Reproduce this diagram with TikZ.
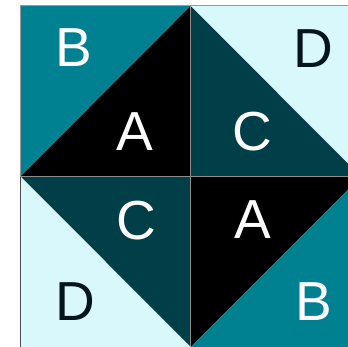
\documentclass[tikz,border=0pt]{standalone}
\usepackage{fontspec}
\setmainfont{Liberation Sans}
\definecolor{tealB}{RGB}{0,129,146}
\definecolor{darkC}{RGB}{0,63,72}
\definecolor{lightD}{RGB}{216,248,252}
\definecolor{textD}{RGB}{2,22,28}
\begin{document}
\begin{tikzpicture}[x=1pt,y=1pt,
  letter/.style={font=\fontsize{55}{55}\selectfont, inner sep=0pt, anchor=center},
  lw/.style={text=white},
  ld/.style={text=textD},
  divider/.style={draw=gray!90, line width=0.9pt}]
\useasboundingbox (0,0) rectangle (348,346);
\begin{scope}
\clip (0,0) rectangle (348,346);
% coordinates
\coordinate (LT) at (20.5,340);
\coordinate (MT) at (190.7,340);
\coordinate (RT) at (361,340);
\coordinate (LM) at (20.5,169.3);
\coordinate (MM) at (190.7,169.3);
\coordinate (RM) at (361,169.3);
\coordinate (LB) at (20.5,-1);
\coordinate (MB) at (190.7,-1);
\coordinate (RB) at (361,-1);
% top-left quadrant
\fill[tealB] (LT) -- (MT) -- (LM) -- cycle;
\fill[black] (MT) -- (MM) -- (LM) -- cycle;
% top-right quadrant
\fill[lightD] (MT) -- (RT) -- (RM) -- cycle;
\fill[darkC] (MT) -- (RM) -- (MM) -- cycle;
% bottom-left quadrant
\fill[darkC] (LM) -- (MM) -- (MB) -- cycle;
\fill[lightD] (LM) -- (MB) -- (LB) -- cycle;
% bottom-right quadrant
\fill[black] (MM) -- (RM) -- (MB) -- cycle;
\fill[tealB] (RM) -- (RB) -- (MB) -- cycle;
% dividers and outline
\draw[divider] (MT) -- (MB);
\draw[divider] (LM) -- (RM);
\draw[draw=gray!80, line width=1pt] (LB) -- (LT) -- (RT);
\draw[draw=black!70, line width=1pt] (LB) -- (LM);
\end{scope}
% labels
\node[letter,lw] (b1) at (73.5,298) {B};
\node[letter,lw] (a1) at (134.5,214) {A};
\node[letter,lw] (c1) at (252.5,214) {C};
\node[letter,ld] (d1) at (313.5,297.5) {D};
\node[letter,lw] (c2) at (136,125) {C};
\node[letter,lw] (a2) at (252.5,126) {A};
\node[letter,ld] (d2) at (75,44) {D};
\node[letter,lw] (b2) at (313.5,44.5) {B};
\end{tikzpicture}
\end{document}
